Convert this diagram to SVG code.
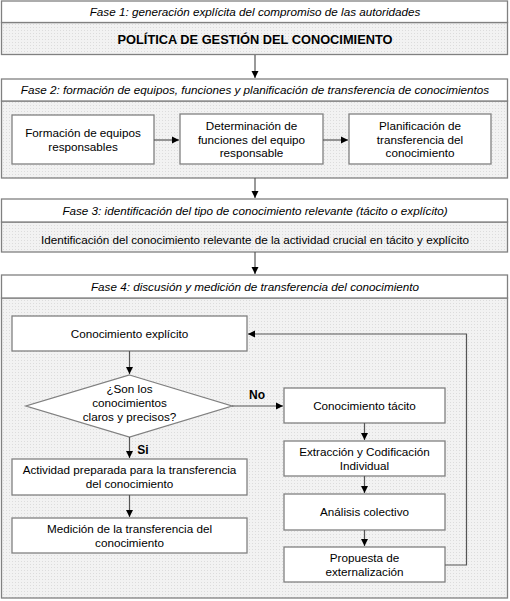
<svg xmlns="http://www.w3.org/2000/svg" width="510" height="601" viewBox="0 0 510 601">
<defs>
<marker id="ah" markerWidth="8" markerHeight="8" refX="7" refY="4" orient="auto" markerUnits="userSpaceOnUse">
<path d="M0,0.5 L7,4 L0,7.5 Z" fill="#000"/>
</marker>
<pattern id="dots" width="3" height="3" patternUnits="userSpaceOnUse">
<rect width="3" height="3" fill="#f2f2f2"/>
<rect width="1" height="1" fill="#dcdcdc"/>
</pattern>
<style>
.hdr{fill:#fff;stroke:#808080;stroke-width:1.3}
.body{fill:url(#dots);stroke:#808080;stroke-width:1.3}
.box{fill:#fff;stroke:#808080;stroke-width:1.3}
.ht{font-family:"Liberation Sans",Arial,sans-serif;font-size:11.7px;font-style:italic;fill:#000;text-anchor:middle}
.t{font-family:"Liberation Sans",Arial,sans-serif;font-size:11.7px;fill:#000;text-anchor:middle}
.b{font-family:"Liberation Sans",Arial,sans-serif;font-size:12px;font-weight:bold;fill:#000;text-anchor:middle}
.title{font-family:"Liberation Sans",Arial,sans-serif;font-size:12.8px;font-weight:bold;fill:#000;text-anchor:middle}
.c{fill:none;stroke:#555;stroke-width:1.2}
</style>
</defs>

<g id="fase1">
<rect class="body" x="1.5" y="22.5" width="506" height="32"/>
<rect class="hdr" x="1.5" y="1" width="506" height="21.5"/>
<text class="ht" x="255" y="16">Fase 1: generación explícita del compromiso de las autoridades</text>
<text class="title" x="255" y="44">POLÍTICA DE GESTIÓN DEL CONOCIMIENTO</text>
</g>

<g id="fase2">
<rect class="body" x="1.5" y="101" width="506" height="77"/>
<rect class="hdr" x="1.5" y="79" width="506" height="22"/>
<text class="ht" x="255" y="94">Fase 2: formación de equipos, funciones y planificación de transferencia de conocimientos</text>
</g>
<g id="formacion">
<rect class="box" x="12" y="115" width="142" height="49"/>
<text class="t" x="83" y="137">Formación de equipos</text>
<text class="t" x="83" y="151">responsables</text>
</g>
<g id="determinacion">
<rect class="box" x="180" y="114" width="143" height="50"/>
<text class="t" x="251.5" y="130">Determinación de</text>
<text class="t" x="251.5" y="143.5">funciones del equipo</text>
<text class="t" x="251.5" y="157">responsable</text>
</g>
<g id="planificacion">
<rect class="box" x="349" y="114" width="142" height="50"/>
<text class="t" x="420" y="130">Planificación de</text>
<text class="t" x="420" y="143.5">transferencia del</text>
<text class="t" x="420" y="157">conocimiento</text>
</g>

<g id="fase3">
<rect class="body" x="1.5" y="222" width="506" height="30"/>
<rect class="hdr" x="1.5" y="199" width="506" height="23"/>
<text class="ht" x="255" y="215">Fase 3: identificación del tipo de conocimiento relevante (tácito o explícito)</text>
<text class="t" x="255" y="244">Identificación del conocimiento relevante de la actividad crucial en tácito y explícito</text>
</g>

<g id="fase4">
<rect class="body" x="1.5" y="298" width="506" height="300"/>
<rect class="hdr" x="1.5" y="275" width="506" height="23"/>
<text class="ht" x="255" y="291">Fase 4: discusión y medición de transferencia del conocimiento</text>
</g>
<g id="explicito">
<rect class="box" x="12" y="316" width="235" height="35"/>
<text class="t" x="129.5" y="338">Conocimiento explícito</text>
</g>
<g id="decision">
<polygon class="box" points="129.5,375 232,406 129.5,437 26,406"/>
<text class="t" x="129.5" y="393">¿Son los</text>
<text class="t" x="129.5" y="406.5">conocimientos</text>
<text class="t" x="129.5" y="420.5">claros y precisos?</text>
</g>
<g id="tacito">
<rect class="box" x="284" y="388" width="161" height="35"/>
<text class="t" x="364.5" y="410">Conocimiento tácito</text>
</g>
<g id="extraccion">
<rect class="box" x="284" y="441" width="161" height="35"/>
<text class="t" x="364.5" y="456">Extracción y Codificación</text>
<text class="t" x="364.5" y="470">Individual</text>
</g>
<g id="analisis">
<rect class="box" x="284" y="494" width="161" height="36"/>
<text class="t" x="364.5" y="516">Análisis colectivo</text>
</g>
<g id="propuesta">
<rect class="box" x="284" y="547" width="161" height="35"/>
<text class="t" x="364.5" y="562">Propuesta de</text>
<text class="t" x="364.5" y="576">externalización</text>
</g>
<g id="actividad">
<rect class="box" x="12" y="459" width="235" height="36"/>
<text class="t" x="129.5" y="474">Actividad preparada para la transferencia</text>
<text class="t" x="129.5" y="488">del conocimiento</text>
</g>
<g id="medicion">
<rect class="box" x="12" y="518" width="235" height="35"/>
<text class="t" x="129.5" y="533">Medición de la transferencia del</text>
<text class="t" x="129.5" y="547">conocimiento</text>
</g>

<g id="connectors">
<line class="c" x1="255" y1="55" x2="255" y2="78" marker-end="url(#ah)"/>
<line class="c" x1="154" y1="140" x2="179" y2="140" marker-end="url(#ah)"/>
<line class="c" x1="323" y1="140" x2="348" y2="140" marker-end="url(#ah)"/>
<line class="c" x1="255" y1="178" x2="255" y2="198" marker-end="url(#ah)"/>
<line class="c" x1="255" y1="252" x2="255" y2="274" marker-end="url(#ah)"/>
<line class="c" x1="129.5" y1="351" x2="129.5" y2="374" marker-end="url(#ah)"/>
<line class="c" x1="232" y1="406" x2="283" y2="406" marker-end="url(#ah)"/>
<line class="c" x1="129.5" y1="437" x2="129.5" y2="458" marker-end="url(#ah)"/>
<line class="c" x1="129.5" y1="495" x2="129.5" y2="517" marker-end="url(#ah)"/>
<line class="c" x1="364.5" y1="423" x2="364.5" y2="440" marker-end="url(#ah)"/>
<line class="c" x1="364.5" y1="476" x2="364.5" y2="493" marker-end="url(#ah)"/>
<line class="c" x1="364.5" y1="530" x2="364.5" y2="546" marker-end="url(#ah)"/>
<polyline class="c" points="445,565 466.5,565 466.5,334 248,334" marker-end="url(#ah)"/>
<text class="b" x="257" y="399">No</text>
<text class="b" x="143" y="454">Si</text>
</g>
</svg>
